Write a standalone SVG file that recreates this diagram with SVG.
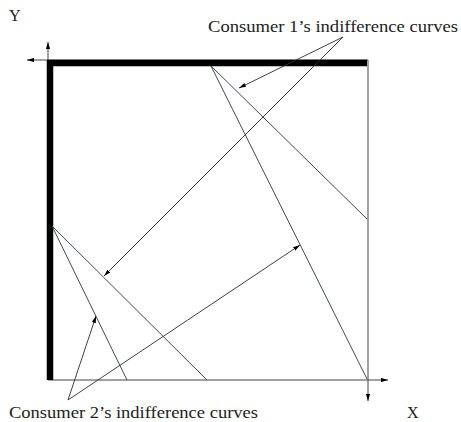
<svg xmlns="http://www.w3.org/2000/svg" width="461" height="422" viewBox="0 0 461 422">
<defs>
<marker id="ah" viewBox="0 0 10 6" refX="10" refY="3" markerWidth="7" markerHeight="4.2" markerUnits="userSpaceOnUse" orient="auto">
<path d="M0,0 L10,3 L0,6 Z" fill="#000"/>
</marker>
</defs>
<style>
.ax{stroke:#444;stroke-width:1;fill:none}
.thick{stroke:#000;stroke-width:6.5;fill:none}
.ic{stroke:#2c3444;stroke-width:0.9;fill:none}
.ar{stroke:#2c2c2c;stroke-width:0.9;fill:none;marker-end:url(#ah)}
text{font-family:"Liberation Serif","DejaVu Serif",serif;fill:#222}
</style>
<g id="axes">
<line class="ax" x1="48" y1="380" x2="48" y2="42" marker-end="url(#ah)"/>
<line class="ax" x1="48" y1="380" x2="388" y2="380" marker-end="url(#ah)"/>
<line class="ax" x1="368" y1="60" x2="368" y2="401" marker-end="url(#ah)"/>
<line class="ax" x1="368" y1="60" x2="27" y2="60" marker-end="url(#ah)"/>
<line class="thick" x1="50" y1="60" x2="50" y2="380"/>
<line class="thick" x1="47" y1="63" x2="367" y2="63"/>
</g>
<g id="curves1">
<line class="ic" x1="211" y1="66" x2="367" y2="379"/>
<line class="ic" x1="211" y1="66" x2="367" y2="219"/>
</g>
<g id="curves2">
<line class="ic" x1="52" y1="226" x2="127" y2="380"/>
<line class="ic" x1="52" y1="226" x2="207" y2="380"/>
</g>
<g id="connectors">
<line class="ar" x1="343" y1="37" x2="239" y2="88"/>
<line class="ar" x1="343" y1="37" x2="104" y2="276"/>
<line class="ar" x1="68" y1="400" x2="96" y2="316"/>
<line class="ar" x1="68" y1="400" x2="300" y2="245"/>
</g>
<g id="labels">
<text x="9" y="21" font-size="16">Y</text>
<text x="407" y="418" font-size="16">X</text>
<text x="208" y="32" font-size="16" textLength="250" lengthAdjust="spacingAndGlyphs">Consumer 1’s indifference curves</text>
<text x="9" y="418" font-size="16" textLength="249" lengthAdjust="spacingAndGlyphs">Consumer 2’s indifference curves</text>
</g>
</svg>
